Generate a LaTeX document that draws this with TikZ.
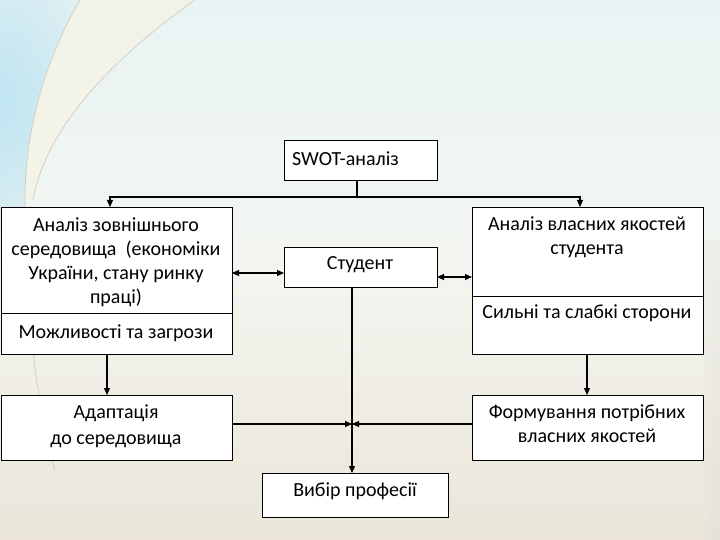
\documentclass[tikz,border=0pt]{standalone}
\usepackage{fontspec}
\setmainfont{Carlito}
\usetikzlibrary{arrows.meta}
\definecolor{bgtop}{HTML}{E8F4F4}
\definecolor{bgmid}{HTML}{F3F5F0}
\definecolor{bgbot}{HTML}{EBE5D9}
\definecolor{skyblue}{HTML}{BFE4F2}
\definecolor{cream}{HTML}{F5F3E6}
\definecolor{arcline}{HTML}{D3CFC4}
\begin{document}
\begin{tikzpicture}[x=1pt,y=-1pt,
  box/.style={draw=black,line width=0.9pt,fill=white,anchor=north west,inner sep=0pt,outer sep=0pt},
  txt/.style={font=\fontsize{20}{24}\selectfont,align=center,inner sep=0pt},
  con/.style={line width=1.1pt},
  arr/.style={con,-{Triangle[length=7pt,width=6pt]}},
  darr/.style={con,{Triangle[length=7pt,width=6pt]}-{Triangle[length=7pt,width=6pt]}}]
\useasboundingbox (0,0) rectangle (720,540);
% background
\shade[top color=bgtop,bottom color=bgbot,middle color=bgmid] (0,0) rectangle (720,540);
\begin{scope}
\clip (0,0) -- (80,0) .. controls (45,60) and (25,130) .. (25,200) .. controls (25,300) and (35,400) .. (55,470) -- (0,470) -- cycle;
\shade[inner color=skyblue,outer color=bgtop!60!bgmid] (-140,-120) rectangle (140,320);
\end{scope}
\fill[cream,opacity=0.8] (80,0) .. controls (45,60) and (25,130) .. (25,200) -- (33,200) .. controls (45,130) and (110,60) .. (195,0) -- cycle;
\draw[arcline,line width=0.8pt] (80,0) .. controls (45,60) and (25,130) .. (25,200) .. controls (25,300) and (35,400) .. (55,470);
\draw[arcline,line width=0.8pt] (195,0) .. controls (110,60) and (45,130) .. (33,200);
\shade[left color=bgbot,right color=black!15,opacity=0.3] (704,240) rectangle (720,540);

% boxes
\node[box,minimum width=153pt,minimum height=40pt] (swot) at (284,140) {};
\node[box,minimum width=231pt,minimum height=106pt] (ltop) at (1,207) {};
\node[box,minimum width=231pt,minimum height=41pt] (lbot) at (1,313) {};
\node[box,minimum width=153pt,minimum height=40pt] (stud) at (284,247) {};
\node[box,minimum width=231pt,minimum height=89pt] (rtop) at (472,207) {};
\node[box,minimum width=231pt,minimum height=58pt] (rbot) at (472,296) {};
\node[box,minimum width=231pt,minimum height=65pt] (adapt) at (1,395) {};
\node[box,minimum width=231pt,minimum height=65pt] (form) at (472,395) {};
\node[box,minimum width=186pt,minimum height=44pt] (vybir) at (262,473) {};

% texts
\node[txt,anchor=west] (tswot) at (292,159) {SWOT-аналіз};
\node[txt] (tl) at (116,262) {Аналіз зовнішнього\\середовища\ \ (економіки\\України, стану ринку\\праці)};
\node[txt] (tlb) at (116,333) {Можливості та загрози};
\node[txt] (tstud) at (360,265) {Студент};
\node[txt] (tr) at (587,237) {Аналіз власних якостей\\студента};
\node[txt] (trb) at (587,313) {Сильні та слабкі сторони};
\node[txt,font=\fontsize{20}{26}\selectfont] (tad) at (116,426) {Адаптація\\до середовища};
\node[txt] (tform) at (587,424) {Формування потрібних\\власних якостей};
\node[txt] (tvyb) at (355,491) {Вибір професії};

% connectors
\coordinate (j) at (357,197);
\coordinate (jl) at (110,197);
\coordinate (jr) at (580,197);
\coordinate (c) at (352,424);
\draw[con] (swot.south -| j) -- (j);
\draw[arr] (j) -- (jl) -- (ltop.north -| jl);
\draw[arr] (j) -- (jr) -- (rtop.north -| jr);
\coordinate (yl) at (0,273);
\coordinate (yr) at (0,277);
\draw[darr] (ltop.east |- yl) -- (stud.west |- yl);
\draw[darr] (stud.east |- yr) -- (rtop.west |- yr);
\coordinate (xl) at (107,0);
\coordinate (xr) at (587,0);
\draw[arr] (lbot.south -| xl) -- (adapt.north -| xl);
\draw[arr] (rbot.south -| xr) -- (form.north -| xr);
\draw[arr] (stud.south -| c) -- (vybir.north -| c);
\draw[arr] (adapt.east |- c) -- (c);
\draw[arr] (form.west |- c) -- (c);
\end{tikzpicture}
\end{document}
